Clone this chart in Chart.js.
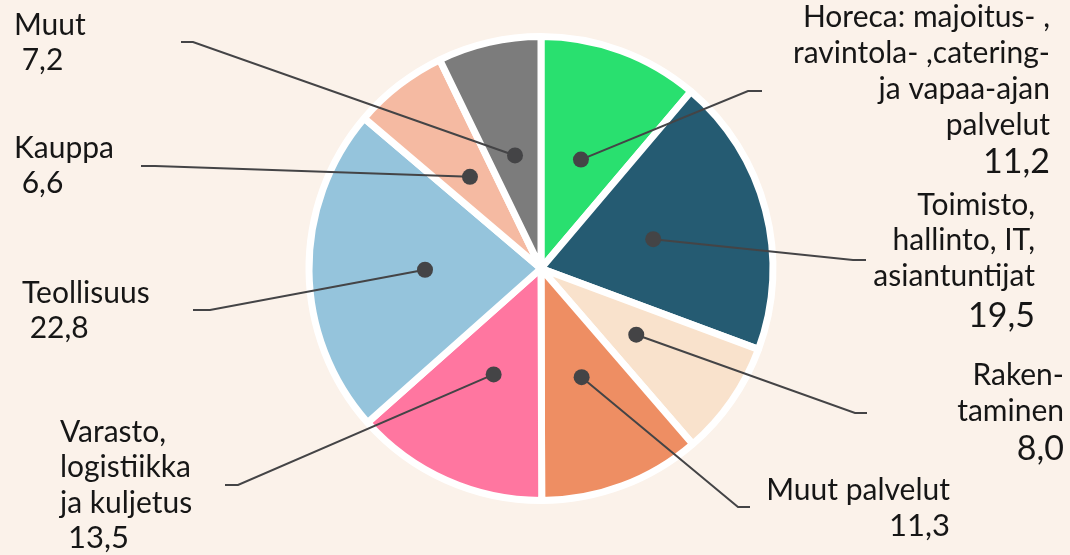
<!DOCTYPE html>
<html>
<head>
<meta charset="utf-8">
<script src="https://cdn.jsdelivr.net/npm/chart.js@4"></script>
<style>
  html, body { margin: 0; padding: 0; background: #fbf2ea; }
  canvas { display: block; }
</style>
</head>
<body>
<canvas id="pie" width="1070" height="555"></canvas>
<script>
// toimialat, osuus %
const categories = [
    'Horeca: majoitus- , ravintola- ,catering- ja vapaa-ajan palvelut',
    'Toimisto, hallinto, IT, asiantuntijat',
    'Rakentaminen',
    'Muut palvelut',
    'Varasto, logistiikka ja kuljetus',
    'Teollisuus',
    'Kauppa',
    'Muut'
];
const shares = [11.2, 19.5, 8.0, 11.3, 13.5, 22.8, 6.6, 7.2];
const labelLines = [
    ['Horeca: majoitus- ,', 'ravintola- ,catering-', 'ja vapaa-ajan', 'palvelut'],
    ['Toimisto,', 'hallinto, IT,', 'asiantuntijat'],
    ['Raken-', 'taminen'],
    ['Muut palvelut'],
    ['Varasto,', 'logistiikka', 'ja kuljetus'],
    ['Teollisuus'],
    ['Kauppa'],
    ['Muut']
];
const colors = ['#29e06f', '#255b72', '#f9e2cc', '#ee8e63', '#ff76a0', '#95c4dc', '#f5baa2', '#7c7c7c'];

// label placement (text anchor, baselines, leader line end + elbow)
const labelLayout = [
    { align: 'right', x: 1050, base: [27, 63, 99, 135], vBase: 173, vSize: 34, end: [762, 91], elbow: [748, 91] },
    { align: 'right', x: 1035, base: [215, 250, 286], vBase: 327, vSize: 34, end: [866, 260], elbow: [853, 260] },
    { align: 'right', x: 1064, base: [385, 421], vBase: 460, vSize: 34, end: [867, 413], elbow: [855, 413] },
    { align: 'right', x: 950, base: [500], vBase: 536, vSize: 31, end: [750, 507], elbow: [738, 507] },
    { align: 'left', x: 60, base: [442, 477, 513], vBase: 548, vSize: 31, end: [225, 485], elbow: [238, 485] },
    { align: 'left', x: 22, base: [303], vBase: 338, vSize: 30, end: [193, 310], elbow: [210, 310] },
    { align: 'left', x: 14, base: [158], vBase: 193, vSize: 30, end: [141, 166], elbow: [155, 166] },
    { align: 'left', x: 14, base: [35], vBase: 70, vSize: 30, end: [181, 42], elbow: [193, 42] }
];

const FONT = 'Lato, "Noto Sans", sans-serif';
const fmt = v => v.toFixed(1).replace('.', ',');

const calloutPlugin = {
    id: 'callouts',
    afterDatasetsDraw(chart) {
        const ctx = chart.ctx;
        const arcs = chart.getDatasetMeta(0).data;
        ctx.save();
        arcs.forEach((arc, i) => {
            const lay = labelLayout[i];
            const p = arc.getCenterPoint();

            // leader line
            ctx.strokeStyle = '#444446';
            ctx.lineWidth = 2;
            ctx.beginPath();
            ctx.moveTo(lay.end[0], lay.end[1]);
            ctx.lineTo(lay.elbow[0], lay.elbow[1]);
            ctx.lineTo(p.x, p.y);
            ctx.stroke();

            ctx.fillStyle = '#444446';
            ctx.beginPath();
            ctx.arc(p.x, p.y, 8, 0, Math.PI * 2);
            ctx.fill();

            // text
            ctx.fillStyle = '#161616';
            ctx.textAlign = lay.align;
            ctx.textBaseline = 'alphabetic';
            ctx.font = '30px ' + FONT;
            labelLines[i].forEach((line, j) => ctx.fillText(line, lay.x, lay.base[j]));
            ctx.font = lay.vSize + 'px ' + FONT;
            const val = (lay.align === 'left' ? ' ' : '') + fmt(shares[i]);
            ctx.fillText(val, lay.x, lay.vBase);
        });
        ctx.restore();
    }
};

new Chart(document.getElementById('pie'), {
    type: 'pie',
    data: {
        labels: categories,
        datasets: [{
            data: shares,
            backgroundColor: colors,
            borderColor: '#ffffff',
            borderWidth: 7
        }]
    },
    options: {
        responsive: false,
        animation: false,
        layout: { padding: { top: 33, bottom: 51, left: 12, right: 0 } },
        plugins: {
            legend: { display: false },
            tooltip: { enabled: false }
        }
    },
    plugins: [calloutPlugin]
});
</script>
</body>
</html>
